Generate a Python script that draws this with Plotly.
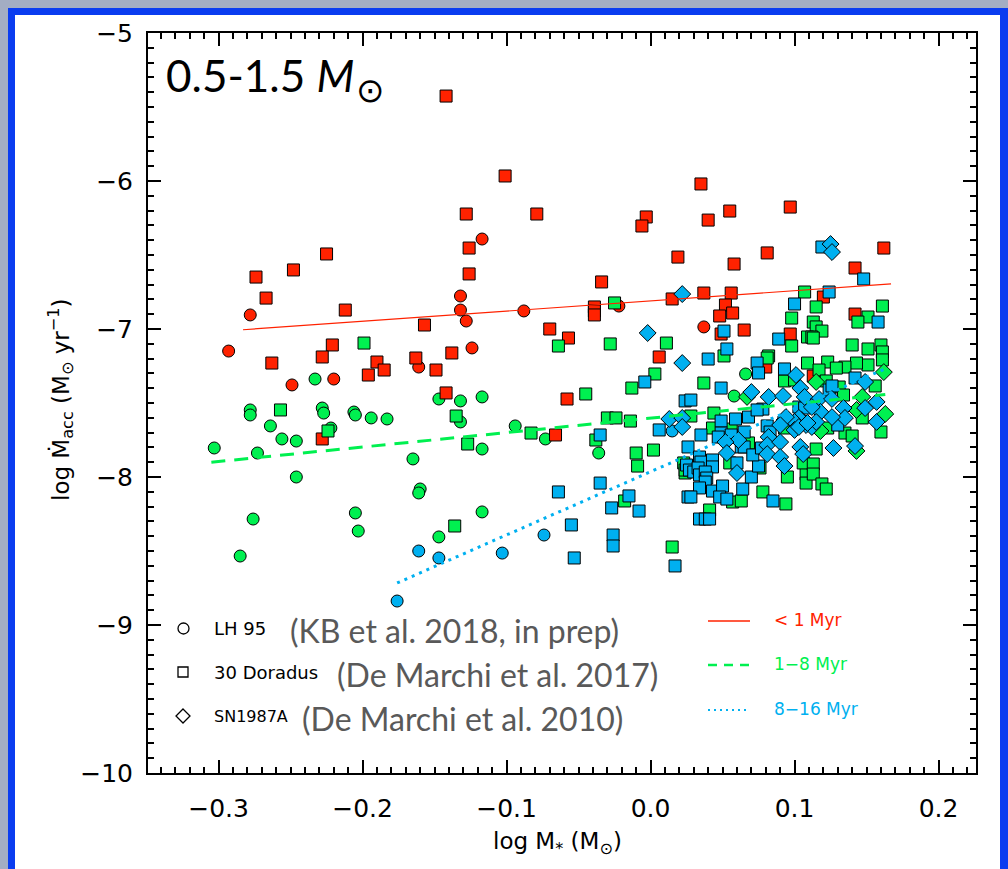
import plotly.graph_objects as go

# ---------------- data ----------------
# LH 95 (circles)
lh95_young_x = [-0.293, -0.278, -0.249, -0.220, -0.161, -0.132, -0.132, -0.128, -0.117, -0.124, -0.088, -0.022, 0.037]
lh95_young_y = [-7.149, -6.905, -7.378, -7.338, -7.257, -6.777, -6.872, -6.946, -6.392, -7.128, -6.878, -6.845, -6.986]

lh95_mid_x = [-0.303, -0.278, -0.278, -0.264, -0.256, -0.246, -0.273, -0.246, -0.276, -0.285,
              -0.233, -0.228, -0.227, -0.222, -0.206, -0.205, -0.194, -0.183, -0.147, -0.132,
              -0.132, -0.117, -0.094, -0.165, -0.160, -0.161, -0.205, -0.203, -0.147, -0.117,
              -0.117, -0.073, -0.036, 0.066, 0.058]
lh95_mid_y = [-7.804, -7.547, -7.581, -7.655, -7.743, -7.757, -7.838, -8.000, -8.284, -8.534,
              -7.338, -7.534, -7.568, -7.669, -7.561, -7.581, -7.601, -7.608, -7.473, -7.486,
              -7.628, -7.459, -7.655, -7.878, -8.081, -8.108, -8.243, -8.365, -8.405, -8.236,
              -7.811, -7.743, -7.838, -7.304, -7.453]

lh95_old_x = [-0.161, -0.147, -0.103, -0.176, -0.074, 0.015]
lh95_old_y = [-8.500, -8.547, -8.514, -8.838, -8.392, -7.689]

# 30 Doradus (squares)
dor_young_x = [-0.142, -0.101, -0.128, -0.079, -0.126, -0.126, -0.225, -0.248, -0.274, -0.267,
               -0.212, -0.157, -0.070, -0.221, -0.228, -0.263, -0.190, -0.185, -0.196, -0.163,
               -0.149, -0.138, -0.142, -0.228, -0.057, -0.039, -0.039, -0.039, -0.034, -0.058,
               -0.066, 0.035, 0.097, 0.055, 0.040, -0.003, -0.006, 0.162, 0.019, 0.081,
               0.058, 0.142, 0.015, 0.037, 0.056, 0.120, 0.052, 0.048, 0.057, 0.142,
               0.065, 0.049, 0.097, 0.006, 0.080, 0.113]
dor_young_y = [-5.426, -5.966, -6.223, -6.223, -6.453, -6.628, -6.493, -6.601, -6.649, -6.791,
               -6.872, -6.973, -7.000, -7.108, -7.189, -7.230, -7.223, -7.277, -7.311, -7.196,
               -7.277, -7.162, -7.432, -7.743, -7.061, -6.851, -6.878, -6.905, -6.682, -7.473,
               -7.716, -6.020, -6.176, -6.203, -6.264, -6.243, -6.304, -6.453, -6.514, -6.486,
               -6.561, -6.588, -6.797, -6.757, -6.757, -6.784, -6.838, -6.912, -6.892, -6.899,
               -7.007, -7.034, -7.034, -7.189, -7.257, -7.318]

dor_mid_x = [-0.199, -0.257, -0.135, -0.224, -0.083, -0.127, -0.136, -0.064, -0.028, -0.045,
             -0.013, -0.030, -0.024, -0.014, -0.038, -0.025, -0.010, -0.009, 0.011, 0.051,
             0.003, 0.037, 0.028, 0.107, 0.115, 0.161, 0.098, 0.151, 0.144, 0.113,
             0.115, 0.119, 0.109, 0.112, 0.113, 0.098, 0.140, 0.151, 0.160, 0.161,
             0.161, 0.082, 0.081, 0.109, 0.123, 0.151, 0.143, 0.135, 0.129, 0.117,
             0.093, 0.131, 0.156, 0.134, 0.122, 0.044, 0.135, 0.140, 0.160, 0.147,
             0.002, 0.043, 0.056, -0.018, 0.015, 0.041, 0.057, 0.063, 0.078, 0.094,
             0.095, 0.108, 0.106, 0.113, 0.108, 0.113, 0.119, 0.122, 0.115, 0.055,
             0.023, 0.024, 0.068, 0.076, 0.024, 0.093, 0.123, 0.100]
dor_mid_y = [-7.095, -7.547, -7.588, -7.689, -7.703, -7.777, -8.331, -7.115, -7.101, -7.439,
             -7.399, -7.601, -7.601, -7.622, -7.750, -6.824, -7.838, -7.926, -7.095, -7.182,
             -7.304, -7.365, -7.588, -6.750, -6.851, -6.845, -6.926, -6.919, -6.953, -6.953,
             -6.986, -7.014, -7.054, -7.054, -7.061, -7.115, -7.108, -7.135, -7.108, -7.155,
             -7.209, -7.182, -7.196, -7.230, -7.223, -7.243, -7.230, -7.257, -7.264, -7.277,
             -7.351, -7.392, -7.385, -7.446, -7.351, -7.568, -7.703, -7.723, -7.696, -7.601,
             -7.818, -7.669, -7.676, -8.162, -8.473, -8.223, -8.169, -8.162, -8.101, -8.182,
             -8.000, -7.980, -7.905, -7.912, -8.041, -7.980, -8.047, -8.081, -7.811, -7.905,
             -7.905, -7.973, -7.770, -7.939, -7.953, -7.669, -7.669, -7.345]

dor_old_x = [0.119, 0.148, 0.124, 0.100, 0.158, 0.051, 0.089, 0.053, 0.040, 0.074,
             0.075, 0.093, -0.004, 0.049, 0.024, 0.028, 0.142, 0.006, -0.035, 0.035,
             0.049, 0.059, 0.068, 0.078, -0.064, -0.035, -0.015, -0.027, -0.008, -0.055,
             -0.026, -0.026, -0.053, 0.017, 0.026, 0.034, 0.035, 0.043, 0.043, 0.025,
             0.027, 0.030, 0.033, 0.034, 0.038, 0.039, 0.038, 0.034, 0.043, 0.050,
             0.048, 0.053, 0.064, 0.070, 0.026, 0.028, 0.034, 0.038, 0.041, 0.085,
             0.075, 0.049, 0.056, 0.065, 0.074, 0.081, 0.083, 0.047, 0.063, 0.065,
             0.060, 0.071, 0.077, 0.103, 0.130, 0.124, 0.107, 0.126]
dor_old_y = [-6.446, -6.662, -6.750, -6.831, -6.953, -7.014, -7.068, -7.135, -7.203, -7.230,
             -7.297, -7.270, -7.358, -7.399, -7.486, -7.480, -7.331, -7.682, -7.716, -7.716,
             -7.622, -7.608, -7.595, -7.541, -8.101, -8.041, -8.128, -8.209, -8.230, -8.324,
             -8.392, -8.466, -8.547, -8.601, -7.797, -7.865, -7.899, -7.885, -7.932, -7.919,
             -7.953, -7.966, -7.939, -7.986, -7.966, -8.007, -8.034, -8.074, -8.095, -8.061,
             -8.135, -8.149, -8.081, -8.000, -8.135, -8.135, -8.284, -8.284, -8.284, -8.162,
             -7.926, -7.703, -7.716, -7.696, -7.547, -7.655, -7.696, -7.730, -7.797, -7.797,
             -7.905, -7.851, -7.804, -7.527, -7.649, -7.412, -7.534, -7.385]

# SN1987A (diamonds)
sn_mid_x = [0.162, 0.115, 0.147, 0.143, 0.163, 0.118, 0.067, 0.143]
sn_mid_y = [-7.291, -7.358, -7.459, -7.547, -7.574, -7.689, -7.459, -7.824]

sn_old_x = [0.125, 0.126, 0.022, -0.002, 0.022, 0.101, 0.149, 0.070, 0.082, 0.092,
            0.104, 0.107, 0.117, 0.126, 0.157, 0.013, 0.022, 0.022, 0.134, 0.135,
            0.149, 0.157, 0.118, 0.093, 0.101, 0.105, 0.108, 0.112, 0.115, 0.061,
            0.052, 0.053, 0.060, 0.082, 0.081, 0.081, 0.090, 0.090, 0.093, 0.104,
            0.106, 0.127, 0.142, 0.126, 0.112, 0.103, 0.100, 0.094, 0.090, 0.100,
            0.103, 0.109]
sn_old_y = [-6.426, -6.480, -6.764, -7.027, -7.230, -7.311, -7.358, -7.426, -7.459, -7.453,
            -7.399, -7.459, -7.473, -7.473, -7.493, -7.608, -7.601, -7.662, -7.534, -7.601,
            -7.534, -7.628, -7.561, -7.615, -7.649, -7.615, -7.649, -7.662, -7.628, -7.750,
            -7.764, -7.838, -7.973, -7.730, -7.784, -7.845, -7.764, -7.865, -7.926, -7.797,
            -7.845, -7.804, -7.791, -7.595, -7.527, -7.601, -7.628, -7.595, -7.649, -7.682,
            -7.662, -7.635]

# fitted trends (end points)
fit_young_x = [-0.283, 0.167]
fit_young_y = [-7.005, -6.695]
fit_mid_x = [-0.305, 0.163]
fit_mid_y = [-7.900, -7.443]
fit_old_x = [-0.176, 0.164]
fit_old_y = [-8.716, -7.264]

x_ticks = [-0.3, -0.2, -0.1, 0.0, 0.1, 0.2]
y_ticks = [-10, -9, -8, -7, -6, -5]

RED = "#ff2200"
GREEN = "#00f050"
BLUE = "#00b0f0"

# ---------------- figure ----------------
W, H = 1008, 869
L, R, T, B = 148, 32, 33, 96
PW, PH = W - L - R, H - T - B


def px(x):
    return (x - L) / PW


def py(y):
    return (H - B - y) / PH


fig = go.Figure()


def pts(x, y, color, symbol, size=12):
    fig.add_trace(go.Scatter(
        x=x, y=y, mode="markers", showlegend=False, hoverinfo="skip",
        marker=dict(color=color, symbol=symbol, size=size,
                    line=dict(color="black", width=1))))


def fit(x, y, color, dash, width):
    fig.add_trace(go.Scatter(
        x=x, y=y, mode="lines", showlegend=False, hoverinfo="skip",
        line=dict(color=color, dash=dash, width=width)))


pts(lh95_young_x, lh95_young_y, RED, "circle")
pts(lh95_mid_x, lh95_mid_y, GREEN, "circle")
pts(lh95_old_x, lh95_old_y, BLUE, "circle")
pts(dor_young_x, dor_young_y, RED, "square")
pts(dor_mid_x, dor_mid_y, GREEN, "square")
pts(dor_old_x, dor_old_y, BLUE, "square")
pts(sn_mid_x, sn_mid_y, GREEN, "diamond", 13)
pts(sn_old_x, sn_old_y, BLUE, "diamond", 13)

fit(fit_young_x, fit_young_y, RED, "solid", 1.2)
fit(fit_mid_x, fit_mid_y, GREEN, "14px,9px", 3)
fit(fit_old_x, fit_old_y, BLUE, "3px,5px", 3)

shapes = [
    # blue frame + white panel
    dict(type="rect", xref="paper", yref="paper", layer="below",
         x0=px(8), x1=px(1012), y0=py(880), y1=py(8),
         fillcolor="#0a3cf0", line=dict(width=0)),
    dict(type="rect", xref="paper", yref="paper", layer="below",
         x0=px(15), x1=px(1000), y0=py(880), y1=py(15),
         fillcolor="white", line=dict(width=0)),
    # legend symbols
    dict(type="circle", xref="paper", yref="paper",
         x0=px(178), x1=px(189), y0=py(634), y1=py(623),
         line=dict(color="black", width=1.3)),
    dict(type="rect", xref="paper", yref="paper",
         x0=px(178), x1=px(188), y0=py(677), y1=py(667),
         line=dict(color="black", width=1.3)),
    dict(type="path", xref="paper", yref="paper",
         path=f"M {px(183)} {py(709)} L {px(190)} {py(716)} L {px(183)} {py(723)} L {px(176)} {py(716)} Z",
         line=dict(color="black", width=1.3)),
    # legend lines
    dict(type="line", xref="paper", yref="paper",
         x0=px(708), x1=px(750), y0=py(621), y1=py(621),
         line=dict(color=RED, width=1.5)),
    dict(type="line", xref="paper", yref="paper",
         x0=px(708), x1=px(752), y0=py(665), y1=py(665),
         line=dict(color=GREEN, width=2.5, dash="9px,7px")),
    dict(type="line", xref="paper", yref="paper",
         x0=px(708), x1=px(750), y0=py(710), y1=py(710),
         line=dict(color=BLUE, width=2, dash="2px,4px")),
]

GREY = "#595959"
TXT = "Lato, 'Open Sans', sans-serif"
LBL = "DejaVu Sans, sans-serif"


def ann(text, x, y, size, color="black", family=LBL, xanchor="left", angle=0):
    return dict(text=text, x=px(x), y=py(y), xref="paper", yref="paper",
                xanchor=xanchor, yanchor="middle", showarrow=False,
                textangle=angle, font=dict(size=size, color=color, family=family))


annotations = [
    ann("0.5-1.5 <i>M</i>", 164, 75, 44, family=TXT),
    ann("⊙", 354, 90, 34, family="DejaVu Sans, sans-serif"),
    ann("LH 95", 212, 628, 18),
    ann("(KB et al. 2018, in prep)", 288, 630, 32, GREY, TXT),
    ann("30 Doradus", 212, 672, 18),
    ann("(De Marchi et al. 2017)", 335, 674, 32, GREY, TXT),
    ann("SN1987A", 212, 716, 16),
    ann("(De Marchi et al. 2010)", 300, 718, 32, GREY, TXT),
    ann("&lt; 1 Myr", 772, 620, 17, RED),
    ann("1−8 Myr", 772, 664, 17, GREEN),
    ann("8−16 Myr", 772, 709, 17, BLUE),
    ann("log M<sub>*</sub> (M<sub>⊙</sub>)", 557, 843, 23, xanchor="center"),
    ann("log Ṁ<sub>acc</sub> (M<sub>⊙</sub> yr<sup>−1</sup>)", 60, 400, 23,
        xanchor="center", angle=-90),
]

axis_common = dict(
    showline=True, linecolor="black", linewidth=2, mirror="allticks",
    ticks="inside", ticklen=13, tickwidth=2, tickcolor="black",
    showgrid=False, zeroline=False,
    tickfont=dict(family=LBL, size=25, color="black"),
)

fig.update_xaxes(range=[-0.349, 0.226], tickvals=x_ticks, tickformat=".1f",
                 minor=dict(dtick=0.01, tick0=0, ticks="inside", ticklen=6,
                            tickwidth=1.5, tickcolor="black"),
                 ticklabelstandoff=12, **axis_common)
fig.update_yaxes(range=[-10, -5], tickvals=y_ticks,
                 minor=dict(dtick=0.1, tick0=0, ticks="inside", ticklen=6,
                            tickwidth=1.5, tickcolor="black"),
                 ticklabelstandoff=8, **axis_common)

fig.update_layout(
    width=W, height=H,
    margin=dict(l=L, r=R, t=T, b=B),
    paper_bgcolor="#a3adc3",
    plot_bgcolor="rgba(0,0,0,0)",
    shapes=shapes, annotations=annotations,
)

fig.write_html("out.html")
